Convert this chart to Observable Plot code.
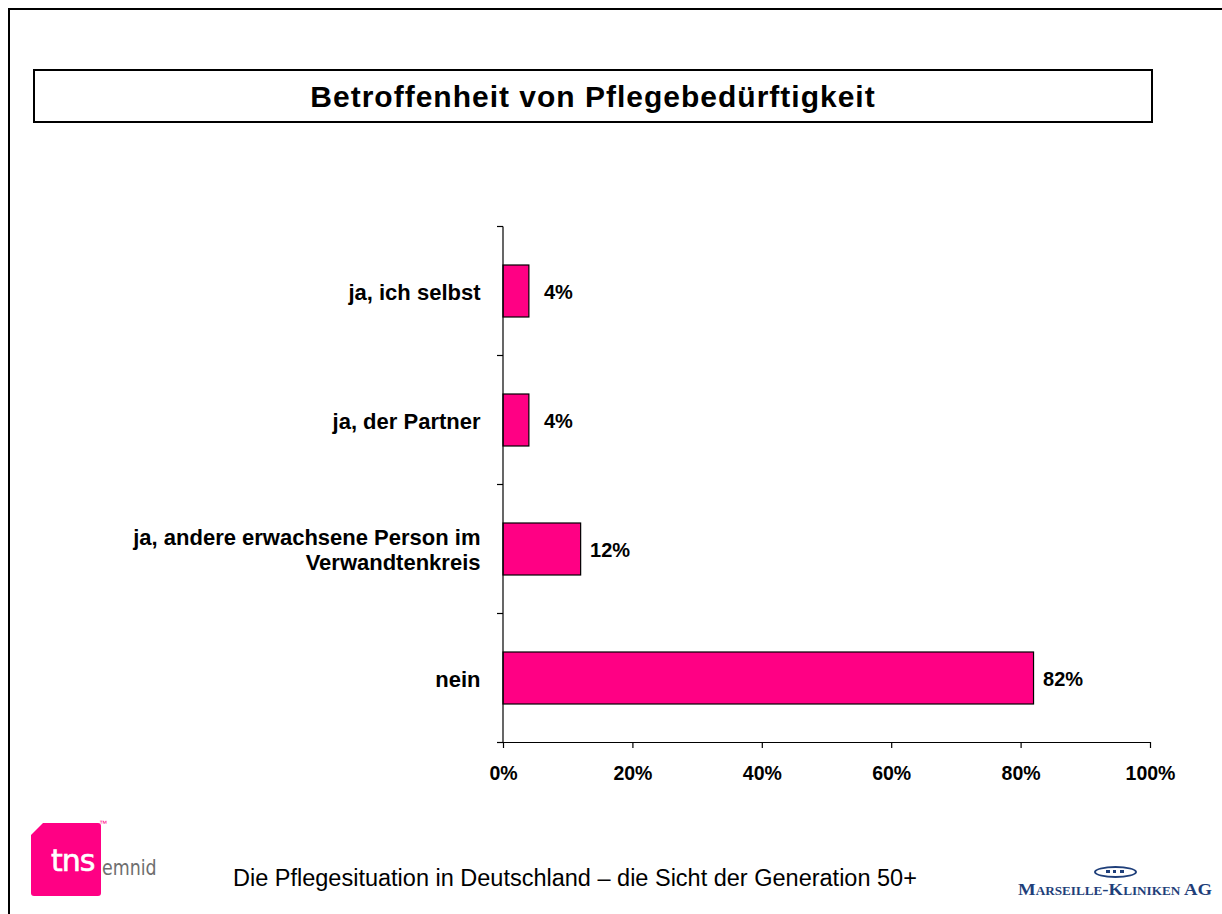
<!DOCTYPE html>
<html>
<head>
<meta charset="utf-8">
<script src="https://cdn.jsdelivr.net/npm/d3@7"></script>
<script src="https://cdn.jsdelivr.net/npm/@observablehq/plot@0.6"></script>
<style>
  body { margin: 0; background: #fff; }
  #root { position: relative; width: 1222px; height: 914px; overflow: hidden; background: #fff; font-family: "Liberation Sans", Arial, sans-serif; }
  .abs { position: absolute; }
</style>
</head>
<body>
<div id="root">
  <div id="chart" class="abs" style="left:0;top:0"></div>
  <div class="abs" style="left:8px;top:8px;width:1400px;height:1000px;border:2px solid #000;box-sizing:border-box"></div>
  <div id="title" class="abs" style="left:33px;top:69px;width:1120px;height:54px;border:2px solid #000;box-sizing:border-box;display:flex;align-items:center;justify-content:center;font-weight:bold;font-size:30px;letter-spacing:1px;color:#000;padding-top:2px"></div>
  <div id="footer" class="abs" style="left:233px;top:865px;font-size:23.5px;color:#000;white-space:nowrap"></div>
  <!-- tns emnid logo -->
  <div class="abs" style="left:31px;top:823px;width:70px;height:73px;background:#ff0084;clip-path:polygon(12px 0,100% 0,100% 100%,0 100%,0 12px);border-radius:3px"></div>
  <div id="tns" class="abs" style="left:51px;top:843px;font-size:30px;color:#fff;letter-spacing:-1px;line-height:36px;font-family:'DejaVu Sans','Liberation Sans',sans-serif;-webkit-text-stroke:0.6px #fff;transform-origin:left">tns</div>
  <div class="abs" style="left:102px;top:855px;font-size:22px;color:#6e6e6e;line-height:26px;font-family:'Liberation Sans Narrow','DejaVu Sans Condensed',sans-serif;transform:scaleX(0.88);transform-origin:left">emnid</div>
  <div class="abs" style="left:99px;top:819px;font-size:8px;color:#ff0084">™</div>
  <!-- Marseille-Kliniken logo -->
  <div class="abs" style="left:1094px;top:866px;width:43px;height:12px;border:2px solid #1f3f7a;border-radius:50%;box-sizing:border-box"></div>
  <div class="abs" style="left:1106px;top:870px;width:18px;height:3px;border-top:3px dotted #1f3f7a;box-sizing:border-box"></div>
  <div id="mk" class="abs" style="left:1018px;top:880px;font-family:'Liberation Serif','DejaVu Serif',serif;font-weight:bold;font-size:17px;color:#1f3f7a;font-variant:small-caps;white-space:nowrap;transform-origin:left">Marseille-Kliniken AG</div>
</div>
<script>
const titleText = "Betroffenheit von Pflegebedürftigkeit";
const footerText = "Die Pflegesituation in Deutschland – die Sicht der Generation 50+";
const categories = ["ja, ich selbst", "ja, der Partner", "ja, andere erwachsene Person im\nVerwandtenkreis", "nein"];
const values = [4, 4, 12, 82];
const xTicks = [0, 20, 40, 60, 80, 100];

document.getElementById("title").textContent = titleText;
document.getElementById("footer").textContent = footerText;
const mk = document.getElementById("mk");
mk.style.transform = "scaleX(" + (194 / mk.getBoundingClientRect().width) + ")";
const tns = document.getElementById("tns");
tns.style.transform = "scaleX(" + Math.min(1, 46 / tns.getBoundingClientRect().width) + ")";

const data = categories.map((c, i) => ({label: c, value: values[i]}));
const font = "Liberation Sans, Arial, sans-serif";

function axesLines(index, scales, values, dimensions) {
  const ns = "http://www.w3.org/2000/svg";
  const g = document.createElementNS(ns, "g");
  const sy = scales.y, sx = scales.x;
  const bw = sy.bandwidth();
  const step = sy(categories[1]) - sy(categories[0]);
  const gap = (step - bw) / 2;
  const x0 = sx(0);
  const bounds = categories.map(c => sy(c) - gap);
  bounds.push(sy(categories[categories.length - 1]) + bw + gap);
  const line = (x1, y1, x2, y2) => {
    const l = document.createElementNS(ns, "line");
    l.setAttribute("x1", x1); l.setAttribute("y1", y1);
    l.setAttribute("x2", x2); l.setAttribute("y2", y2);
    l.setAttribute("stroke", "#000"); l.setAttribute("stroke-width", 1.2);
    g.appendChild(l);
  };
  for (const b of bounds) line(x0 - 6, b, x0, b);
  line(x0, bounds[0], x0, bounds[bounds.length - 1]);
  const yb = bounds[bounds.length - 1];
  line(x0, yb, sx(100), yb);
  return g;
}

const chart = Plot.plot({
  width: 1222,
  height: 914,
  marginLeft: 503,
  marginRight: 72,
  marginTop: 226,
  marginBottom: 172,
  style: {background: "transparent", fontFamily: font, color: "#000"},
  x: {domain: [0, 100]},
  y: {domain: categories, paddingInner: 0.6, paddingOuter: 0.3},
  marks: [
    Plot.barX(data, {x: "value", y: "label", fill: "#ff0084", stroke: "#000", strokeWidth: 1.2}),
    Plot.text(data, {x: "value", y: "label", text: d => d.value + "%", dx: 29, dy: 1, textAnchor: "middle", fontWeight: "bold", fontSize: 20, fill: "#000"}),
    Plot.axisY({tickSize: 0, tickPadding: 23, fontSize: 22, fontWeight: "bold", lineHeight: 1.14, label: null, fill: "#000"}),
    Plot.axisX({ticks: xTicks, tickFormat: d => d + "%", tickSize: 6, tickPadding: 18, fontSize: 19.5, fontWeight: "bold", label: null, fill: "#000", strokeWidth: 1.2}),
    axesLines
  ]
});
document.getElementById("chart").appendChild(chart);
</script>
</body>
</html>
